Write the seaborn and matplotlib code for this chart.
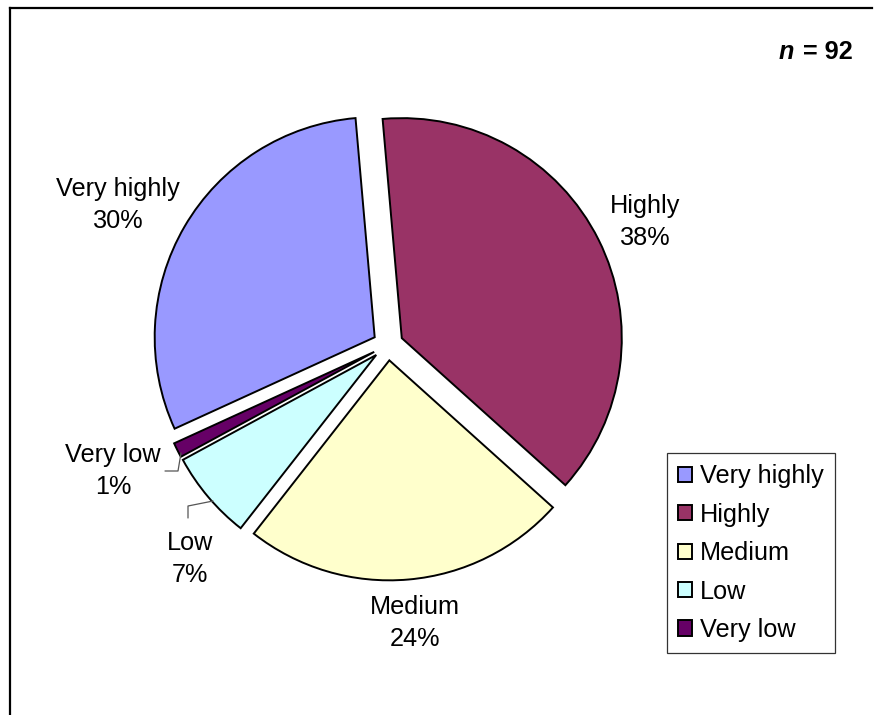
import matplotlib
matplotlib.use("Agg")
import matplotlib.pyplot as plt
import seaborn as sns

# ---- data ----
categories = ["Very highly", "Highly", "Medium", "Low", "Very low"]
counts = [28, 35, 22, 6, 1]          # n = 92
pct_labels = ["30%", "38%", "24%", "7%", "1%"]
n_total = 92
colors = ["#9999FF", "#993366", "#FFFFCC", "#CCFFFF", "#660066"]

sns.set_theme(style="white")
plt.rcParams["font.family"] = ["Liberation Sans", "DejaVu Sans"]
plt.rcParams["text.color"] = "black"

W, H = 876, 715
FS = 18.2
fig = plt.figure(figsize=(W / 100, H / 100), dpi=100)
ax = fig.add_axes([0, 0, 1, 1])

# order clockwise from top: Highly, Medium, Low, Very low, Very highly
order = [1, 2, 3, 4, 0]
vals = [counts[i] for i in order]
cols = [colors[i] for i in order]
cx, cy, R = 388, H - 345, 220
wedges, _ = ax.pie(vals, colors=cols, startangle=95, counterclock=False,
                   radius=R, center=(cx, cy), explode=[0.07 * R] * 5,
                   wedgeprops=dict(edgecolor="black", linewidth=1.4),
                   frame=True)
ax.set_xlim(0, W)
ax.set_ylim(0, H)
ax.set_aspect("auto")
ax.axis("off")

# labels
lab_pos = {"Very highly": (118, 205), "Highly": (645, 222), "Medium": (415, 623),
           "Low": (190, 559), "Very low": (113, 471)}
for c, p in zip(categories, pct_labels):
    x, y = lab_pos[c]
    ax.text(x, H - y, f"{c}\n{p}", ha="center", va="center", fontsize=FS,
            linespacing=1.45, color="black")

# leader lines
ax.plot([188, 188, 213], [H - 518, H - 506, H - 501], color="#555555", lw=0.9)
ax.plot([165, 178, 181], [H - 471, H - 471, H - 453], color="#555555", lw=0.9)

# n = 92
ax.text(794, H - 52, "n", ha="right", va="center", fontsize=FS,
        fontweight="bold", fontstyle="italic", color="black")
ax.text(853, H - 52, f"= {n_total}", ha="right", va="center", fontsize=FS,
        fontweight="bold", color="black")

# border
ax.plot([10, 10], [0, H - 8], color="black", lw=1.6, solid_capstyle="projecting")
ax.plot([10, 872], [H - 8, H - 8], color="black", lw=1.6, solid_capstyle="projecting")

# legend
handles = [wedges[order.index(i)] for i in range(5)]
leg = ax.legend(handles, categories, loc="upper left",
                bbox_to_anchor=(667 / W, 1 - 453 / H), bbox_transform=fig.transFigure,
                borderaxespad=0, fontsize=FS, frameon=True, fancybox=False,
                edgecolor="black", handlelength=0.55, handleheight=0.55,
                handletextpad=0.3, labelspacing=0.57, borderpad=0.45,
                labelcolor="black")
leg.get_frame().set_linewidth(0.9)

fig.savefig("out.png", dpi=100, facecolor="white")
